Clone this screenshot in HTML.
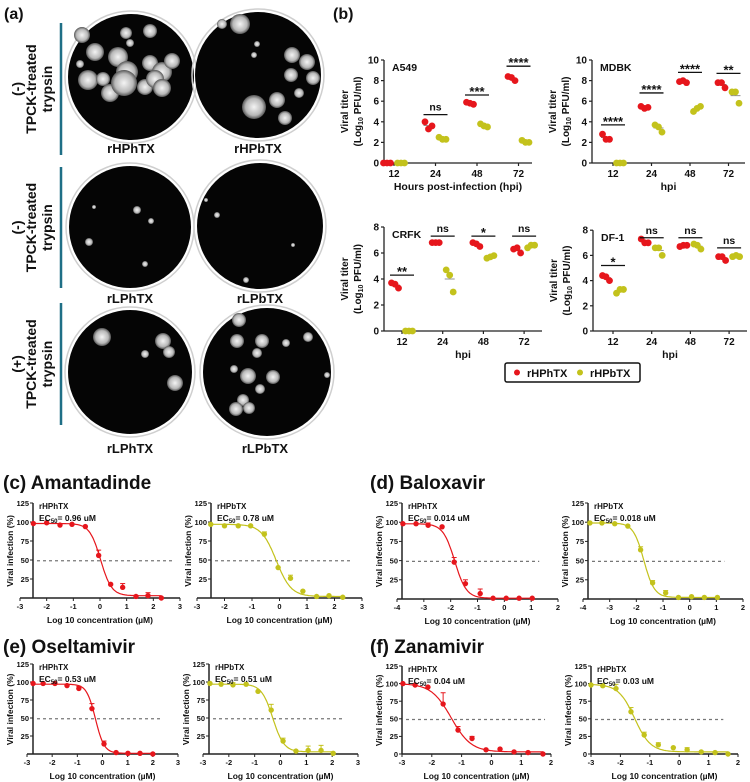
<!DOCTYPE html>
<html><head><meta charset="utf-8">
<style>
html,body{margin:0;padding:0;background:#fff;}
svg{display:block;font-family:"Liberation Sans",Arial,sans-serif;}
</style></head>
<body>
<svg id="fig" width="750" height="782" viewBox="0 0 750 782" xmlns="http://www.w3.org/2000/svg">
<defs>
<radialGradient id="plq"><stop offset="0" stop-color="#f4f4f4"/><stop offset="0.7" stop-color="#b8b8b8"/><stop offset="1" stop-color="#555"/></radialGradient>
</defs>
</svg>
<script>
// ---------- Panel (b) data ----------
const hpiCats = ["12","24","48","72"];
const a549Red = [[0,0,0],[4.0,3.6,3.3],[5.9,5.7,5.8],[8.4,8.0,8.3]];
const a549Olive = [[0,0,0],[2.5,2.3,2.3],[3.8,3.5,3.6],[2.2,2.0,2.0]];
const a549Sig = ["","ns","***","****"];
const a549SigY = [0,4.7,6.6,9.4];
const mdbkRed = [[2.8,2.3,2.3],[5.5,5.4,5.3],[7.9,7.8,8.0],[7.8,7.3,7.8]];
const mdbkOlive = [[0,0,0],[3.7,3.0,3.5],[5.0,5.5,5.3],[6.9,5.8,6.9]];
const mdbkSig = ["****","****","****","**"];
const mdbkSigY = [3.7,6.8,8.8,8.7];
const crfkRed = [[3.7,3.3,3.6],[6.8,6.8,6.8],[6.8,6.5,6.7],[6.3,6.0,6.4]];
const crfkOlive = [[0,0,0],[4.7,3.0,4.3],[5.6,5.8,5.7],[6.4,6.6,6.6]];
const crfkSig = ["**","ns","*","ns"];
const crfkSigY = [4.3,7.3,7.3,7.3];
const df1Red = [[4.4,4.0,4.3],[7.3,7.0,7.0],[6.7,6.8,6.8],[5.9,5.6,5.9]];
const df1Olive = [[3.0,3.3,3.3],[6.6,6.0,6.6],[6.9,6.5,6.8],[5.9,5.9,6.0]];
const df1Sig = ["*","ns","ns","ns"];
const df1SigY = [5.2,7.4,7.4,6.6];
const titerTicksTop = [0,2,4,6,8,10];
const titerTicksBot = [0,2,4,6,8];

// ---------- Dose-response data ----------
const amaX = [-2.5,-2,-1.5,-1.05,-0.55,-0.05,0.4,0.85,1.35,1.8,2.3];
const amaRedY = [98,99,96,97,94,56,18,14,2,3,0];
const amaRedErr = [0,0,0,0,0,7,0,5,0,4,0];
const amaOliveY = [97,95,95,95,84,40,26,9,2,3,1];
const amaOliveErr = [0,0,0,0,3,0,4,0,0,0,0];
const amaRedFit = [98,3,0.02,2.1];
const amaOliveFit = [97,2,-0.12,1.6];
const baloRedX = [-3.78,-3.29,-2.84,-2.32,-1.87,-1.45,-0.9,-0.42,0.07,0.55,1.04];
const baloRedY = [98,98,96,94,48,20,7,1,1,1,1];
const baloRedErr = [0,0,3,0,6,5,6,0,0,0,0];
const baloOliveX = [-3.74,-3.29,-2.81,-2.32,-1.84,-1.39,-0.9,-0.42,0.07,0.55,1.04];
const baloOliveY = [99,99,98,95,64,21,8,2,3,2,2];
const baloOliveErr = [0,0,0,0,4,3,3,0,0,0,0];
const baloRedFit = [98,1,-1.85,2.0];
const baloOliveFit = [99,2,-1.72,2.2];
const oselRedX = [-2.76,-2.36,-1.89,-1.41,-0.94,-0.42,0.06,0.54,1.01,1.49,2.0];
const oselRedY = [98,98,98,95,91,63,14,2,1,1,0];
const oselRedErr = [0,0,0,0,3,7,4,0,0,0,0];
const oselOliveX = [-2.73,-2.3,-1.84,-1.33,-0.87,-0.36,0.1,0.6,1.07,1.57,2.04];
const oselOliveY = [98,97,96,97,87,61,18,4,5,5,1];
const oselOliveErr = [0,0,3,0,0,8,4,0,6,7,0];
const oselRedFit = [97,1,-0.28,2.5];
const oselOliveFit = [97,3,-0.3,2.0];
const zanaRedX = [-2.97,-2.56,-2.13,-1.62,-1.12,-0.65,-0.18,0.29,0.76,1.23,1.73];
const zanaRedY = [100,98,95,71,34,22,6,7,3,2,0];
const zanaRedErr = [0,0,0,16,5,3,0,0,0,0,0];
const zanaOliveX = [-3,-2.6,-2.15,-1.64,-1.19,-0.71,-0.2,0.27,0.75,1.22,1.66];
const zanaOliveY = [98,97,93,60,27,13,9,6,3,2,0];
const zanaOliveErr = [0,0,6,6,4,3,0,3,0,0,0];
const zanaRedFit = [100,3,-1.35,1.3];
const zanaOliveFit = [99,3,-1.52,1.6];
const pctTicks = [25,50,75,100,125];

const NS = "http://www.w3.org/2000/svg";
const svg = document.getElementById("fig");
const RED = "#e6161c", OLIVE = "#c3c21c";
function mk(tag, parent){ const e=document.createElementNS(NS,tag); (parent||svg).appendChild(e); return e; }
function at(e,o){ for(const k in o) e.setAttribute(k,o[k]); return e; }
function txt(parent,x,y,s,size,anchor,extra){
  const t=mk("text",parent); at(t,{x:x,y:y,"font-size":size,"font-weight":"bold","text-anchor":anchor||"start",fill:"#111"});
  if(extra) at(t,extra); t.textContent=s; return t;
}

// ---------- Panel (a) ----------
const gA = mk("g");


let lab = txt(gA,4,19,"(a)",16);


const plates = [
 {cx:131,cy:77,r:63,name:"plate-rhphtx",pl:[[82,35,8],[95,52,9],[126,33,6],[150,31,7],[118,57,10],[127,72,11],[150,63,8],[162,72,10],[172,61,8],[88,80,10],[103,79,7],[110,93,9],[124,83,13],[145,87,8],[155,79,9],[162,88,9],[80,64,4],[130,43,4]]},
 {cx:258,cy:75,r:63,name:"plate-rhpbtx",pl:[[240,24,10],[222,24,5],[292,55,8],[307,62,8],[291,75,7],[313,78,7],[299,93,5],[254,107,12],[277,100,8],[285,118,7],[257,44,3],[254,55,3]]},
 {cx:130,cy:227,r:61,name:"plate-rlphtx",pl:[[137,210,4],[151,221,3],[89,242,4],[145,264,3],[94,207,2]]},
 {cx:260,cy:226,r:63,name:"plate-rlpbtx",pl:[[217,215,3],[293,245,2],[246,280,3],[206,200,2]]},
 {cx:130,cy:372,r:62,name:"plate-rlphtx-trypsin",pl:[[102,337,9],[163,341,8],[169,352,6],[145,354,4],[175,383,8]]},
 {cx:267,cy:372,r:64,name:"plate-rlpbtx-trypsin",pl:[[239,320,7],[237,341,7],[262,341,7],[286,343,4],[308,337,5],[257,353,5],[234,369,4],[248,376,8],[273,377,7],[260,389,5],[243,400,6],[249,408,6],[236,409,7],[327,375,3]]}
];
plates.forEach(p=>{
  const g=mk("g",gA);
  
  
  at(mk("circle",g),{cx:p.cx,cy:p.cy,r:p.r+3,fill:"none",stroke:"#cfcfcf","stroke-width":1.5});
  at(mk("circle",g),{cx:p.cx,cy:p.cy,r:p.r,fill:"#050505"});
  p.pl.forEach(q=>at(mk("circle",g),{cx:q[0],cy:q[1],r:q[2],fill:"url(#plq)"}));
});
const plateLabels=[["rHPhTX",131,153],["rHPbTX",258,153],["rLPhTX",130,303],["rLPbTX",260,303],["rLPhTX",130,453],["rLPbTX",265,453]];
plateLabels.forEach(l=>{
  const t=txt(gA,l[1],l[2],l[0],13,"middle");
  
  
});
const rowsA=[{y0:23,y1:155,sign:"(-)"},{y0:167,y1:288,sign:"(-)"},{y0:303,y1:425,sign:"(+)"}];
rowsA.forEach(r=>{
  const ln=at(mk("line",gA),{x1:61,y1:r.y0,x2:61,y2:r.y1,stroke:"#1f6f86","stroke-width":2.5});
  
  
  const cy=(r.y0+r.y1)/2;
  const g=mk("g",gA); at(g,{transform:"translate(0,"+cy+") rotate(-90)"});
  
  
  txt(g,0,22,r.sign,14,"middle");
  txt(g,0,36,"TPCK-treated",14,"middle");
  txt(g,0,52,"trypsin",14,"middle");
});

// ---------- Panel (b) ----------
const gB = mk("g");


lab = txt(gB,333,19,"(b)",16);



function titerPlot(c){
  const g=mk("g",gB);
  
  
  const y=v=>c.base-v*c.ppu;
  const xc=i=>c.x0+i*c.step;
  at(mk("line",g),{x1:c.ax,y1:c.base,x2:c.ax,y2:y(c.ticks[c.ticks.length-1]),stroke:"#222","stroke-width":1.3});
  at(mk("line",g),{x1:c.ax,y1:c.base,x2:c.xend,y2:c.base,stroke:"#222","stroke-width":1.3});
  c.ticks.forEach(t=>{
    at(mk("line",g),{x1:c.ax-3,y1:y(t),x2:c.ax,y2:y(t),stroke:"#222","stroke-width":1.2});
    const tl=txt(g,c.ax-5,y(t)+3.5,String(t),10,"end");
    
    
  });
  hpiCats.forEach((h,i)=>{
    at(mk("line",g),{x1:xc(i),y1:c.base,x2:xc(i),y2:c.base+3,stroke:"#222","stroke-width":1.2});
    const tl=txt(g,xc(i),c.base+14,h,10,"middle");
    
    
  });
  const xl=txt(g,(c.ax+c.xend)/2,c.base+27,c.xlabel,10.5,"middle");
  
  
  const cy=y(c.ticks[c.ticks.length-1]/2);
  const yg=mk("g",g); at(yg,{transform:"translate("+(c.ax-28)+","+cy+") rotate(-90)"});
  
  
  txt(yg,0,-8,"Viral titer",10,"middle");
  const t2=txt(yg,0,5,"(Log",10,"middle");
  const sub=mk("tspan",t2); at(sub,{"font-size":7,dy:2}); sub.textContent="10";
  const rest=mk("tspan",t2); at(rest,{dy:-2}); rest.textContent=" PFU/ml)";
  const tt=txt(g,c.ax+8,y(c.ticks[c.ticks.length-1])+11,c.title,10.5);
  
  
  const offs=[[-3,-2],[3,-2],[0,2]];
  [[c.red,RED,-7],[c.olive,OLIVE,7]].forEach(s=>{
    s[0].forEach((vals,i)=>{
      const cx=xc(i)+s[2];
      const mean=(vals[0]+vals[1]+vals[2])/3;
      at(mk("line",g),{x1:cx-5,y1:y(mean),x2:cx+5,y2:y(mean),stroke:"#777","stroke-width":0.8});
      vals.forEach((v,k)=>{
        const d=mk("circle",g);
        at(d,{cx:cx+[-3.5,3.5,0][k],cy:y(v),r:3.4,fill:s[1]});
        
        
      });
    });
  });
  c.sig.forEach((s,i)=>{
    if(!s) return;
    const sy=y(c.sigY[i]);
    const b=at(mk("line",g),{x1:xc(i)-12,y1:sy,x2:xc(i)+12,y2:sy,stroke:"#111","stroke-width":1.3});
    
    
    const st=txt(g,xc(i),s==="ns"?sy-4:sy+1,s,s==="ns"?10.5:13,"middle");
    
    
  });
}
titerPlot({name:"a549-plot",title:"A549",ax:384,xend:532,x0:394,step:41.5,base:163,ppu:10.3,ticks:titerTicksTop,red:a549Red,olive:a549Olive,sig:a549Sig,sigY:a549SigY,xlabel:"Hours post-infection (hpi)"});
titerPlot({name:"mdbk-plot",title:"MDBK",ax:592,xend:745,x0:613,step:38.5,base:163,ppu:10.3,ticks:titerTicksTop,red:mdbkRed,olive:mdbkOlive,sig:mdbkSig,sigY:mdbkSigY,xlabel:"hpi"});
titerPlot({name:"crfk-plot",title:"CRFK",ax:384,xend:542,x0:402,step:40.7,base:331,ppu:13,ticks:titerTicksBot,red:crfkRed,olive:crfkOlive,sig:crfkSig,sigY:crfkSigY,xlabel:"hpi"});
titerPlot({name:"df1-plot",title:"DF-1",ax:593,xend:747,x0:613,step:38.7,base:331,ppu:12.6,ticks:titerTicksBot,red:df1Red,olive:df1Olive,sig:df1Sig,sigY:df1SigY,xlabel:"hpi"});

const lg=mk("g",gB);


at(mk("rect",lg),{x:505,y:363,width:135,height:19,rx:2,fill:"#fff",stroke:"#111","stroke-width":1.5});
at(mk("circle",lg),{cx:517,cy:372.5,r:3,fill:RED});
let le=txt(lg,527,377,"rHPhTX",11);


at(mk("circle",lg),{cx:580,cy:372.5,r:3,fill:OLIVE});
le=txt(lg,590,377,"rHPbTX",11);



// ---------- Dose-response panels ----------
function dosePlot(c){
  const g=mk("g");
  
  
  const sx=v=>c.px0+(v-c.xmin)*(c.px1-c.px0)/(c.xmax-c.xmin);
  const sy=v=>c.base-v*(c.base-c.top)/125;
  at(mk("line",g),{x1:c.ax,y1:c.base,x2:c.ax,y2:sy(125),stroke:"#222","stroke-width":1.5});
  at(mk("line",g),{x1:sx(c.xmin),y1:c.base,x2:sx(c.xmax),y2:c.base,stroke:"#222","stroke-width":1.5});
  const yt=c.zero?[0].concat(pctTicks):pctTicks;
  yt.forEach(t=>{
    at(mk("line",g),{x1:c.ax-3,y1:sy(t),x2:c.ax,y2:sy(t),stroke:"#222","stroke-width":1});
    const l=txt(g,c.ax-4,sy(t)+2.8,String(t),7.5,"end");
    
    
  });
  for(let v=c.xmin;v<=c.xmax;v++){
    at(mk("line",g),{x1:sx(v),y1:c.base,x2:sx(v),y2:c.base+3,stroke:"#222","stroke-width":1});
    const l=txt(g,sx(v),c.base+11,String(v),7.5,"middle");
    
    
  }
  const xl=txt(g,(sx(c.xmin)+sx(c.xmax))/2,c.base+25,"Log 10 concentration (\u00b5M)",8.5,"middle");
  
  
  const yg=mk("g",g); at(yg,{transform:"translate("+(c.ax-20)+","+sy(62)+") rotate(-90)"});
  
  
  txt(yg,0,0,"Viral infection (%)",8.5,"middle");
  const dl=at(mk("line",g),{x1:c.ax+4,y1:sy(49),x2:sx(c.dashEnd),y2:sy(49),stroke:"#777","stroke-width":1.2,"stroke-dasharray":"3,3"});
  
  
  const f=c.fit;
  const fy=x=>f[1]+(f[0]-f[1])/(1+Math.pow(10,(x-f[2])*f[3]));
  let d="";
  const xa=c.xs[0], xb=c.xs[c.xs.length-1];
  for(let i=0;i<=120;i++){const x=xa+(xb-xa)*i/120; d+=(i?"L":"M")+sx(x).toFixed(1)+","+sy(fy(x)).toFixed(1);}
  const cv=at(mk("path",g),{d:d,fill:"none",stroke:c.color,"stroke-width":1.2});
  
  
  c.xs.forEach((x,i)=>{
    if(c.err[i]>0){
      at(mk("line",g),{x1:sx(x),y1:sy(c.ys[i]),x2:sx(x),y2:sy(c.ys[i]+c.err[i]),stroke:c.color,"stroke-width":1});
      at(mk("line",g),{x1:sx(x)-2.5,y1:sy(c.ys[i]+c.err[i]),x2:sx(x)+2.5,y2:sy(c.ys[i]+c.err[i]),stroke:c.color,"stroke-width":1});
    }
    const p=at(mk("circle",g),{cx:sx(x),cy:sy(c.ys[i]),r:2.7,fill:c.color});
    
    
  });
  const n=txt(g,c.ax+6,sy(125)+6,c.virus,8);
  
  
  const e=txt(g,c.ax+6,sy(125)+18,"EC",8.5);
  const s=mk("tspan",e); at(s,{"font-size":6,dy:2}); s.textContent="50";
  const r=mk("tspan",e); at(r,{dy:-2}); r.textContent="= "+c.ec;
  
  
}
function title(s,x,y,name){
  const t=txt(svg,x,y,s,19);
  
  
}
title("(c) Amantadinde",3,489,"panel-c-title");
title("(d) Baloxavir",370,489,"panel-d-title");
title("(e) Oseltamivir",3,653,"panel-e-title");
title("(f) Zanamivir",370,653,"panel-f-title");

dosePlot({name:"amantadine-rhphtx",virus:"rHPhTX",ec:"0.96 uM",color:RED,xmin:-3,xmax:3,px0:20,px1:180,ax:33,base:598,top:503,xs:amaX,ys:amaRedY,err:amaRedErr,fit:amaRedFit,dashEnd:2.7});
dosePlot({name:"amantadine-rhpbtx",virus:"rHPbTX",ec:"0.78 uM",color:OLIVE,xmin:-3,xmax:3,px0:197,px1:362,ax:211,base:598,top:503,xs:amaX,ys:amaOliveY,err:amaOliveErr,fit:amaOliveFit,dashEnd:2.6});
dosePlot({name:"baloxavir-rhphtx",virus:"rHPhTX",ec:"0.014 uM",color:RED,xmin:-4,xmax:2,px0:397,px1:558,ax:402,base:599,top:503,xs:baloRedX,ys:baloRedY,err:baloRedErr,fit:baloRedFit,dashEnd:1.3});
dosePlot({name:"baloxavir-rhpbtx",virus:"rHPbTX",ec:"0.018 uM",color:OLIVE,xmin:-4,xmax:2,px0:583,px1:743,ax:588,base:599,top:503,xs:baloOliveX,ys:baloOliveY,err:baloOliveErr,fit:baloOliveFit,dashEnd:1.3});
dosePlot({name:"oseltamivir-rhphtx",virus:"rHPhTX",ec:"0.53 uM",color:RED,xmin:-3,xmax:3,px0:27,px1:178,ax:33,base:754,top:664,xs:oselRedX,ys:oselRedY,err:oselRedErr,fit:oselRedFit,dashEnd:2.4});
dosePlot({name:"oseltamivir-rhpbtx",virus:"rHPbTX",ec:"0.51 uM",color:OLIVE,xmin:-3,xmax:3,px0:203,px1:358,ax:209,base:754,top:664,xs:oselOliveX,ys:oselOliveY,err:oselOliveErr,fit:oselOliveFit,dashEnd:2.4});
dosePlot({name:"zanamivir-rhphtx",virus:"rHPhTX",ec:"0.04 uM",color:RED,xmin:-3,xmax:2,px0:402,px1:551,ax:402,base:754,top:666,xs:zanaRedX,ys:zanaRedY,err:zanaRedErr,fit:zanaRedFit,dashEnd:1.8,zero:true});
dosePlot({name:"zanamivir-rhpbtx",virus:"rHPbTX",ec:"0.03 uM",color:OLIVE,xmin:-3,xmax:2,px0:591,px1:738,ax:591,base:754,top:666,xs:zanaOliveX,ys:zanaOliveY,err:zanaOliveErr,fit:zanaOliveFit,dashEnd:1.5,zero:true});
</script>
</body></html>
